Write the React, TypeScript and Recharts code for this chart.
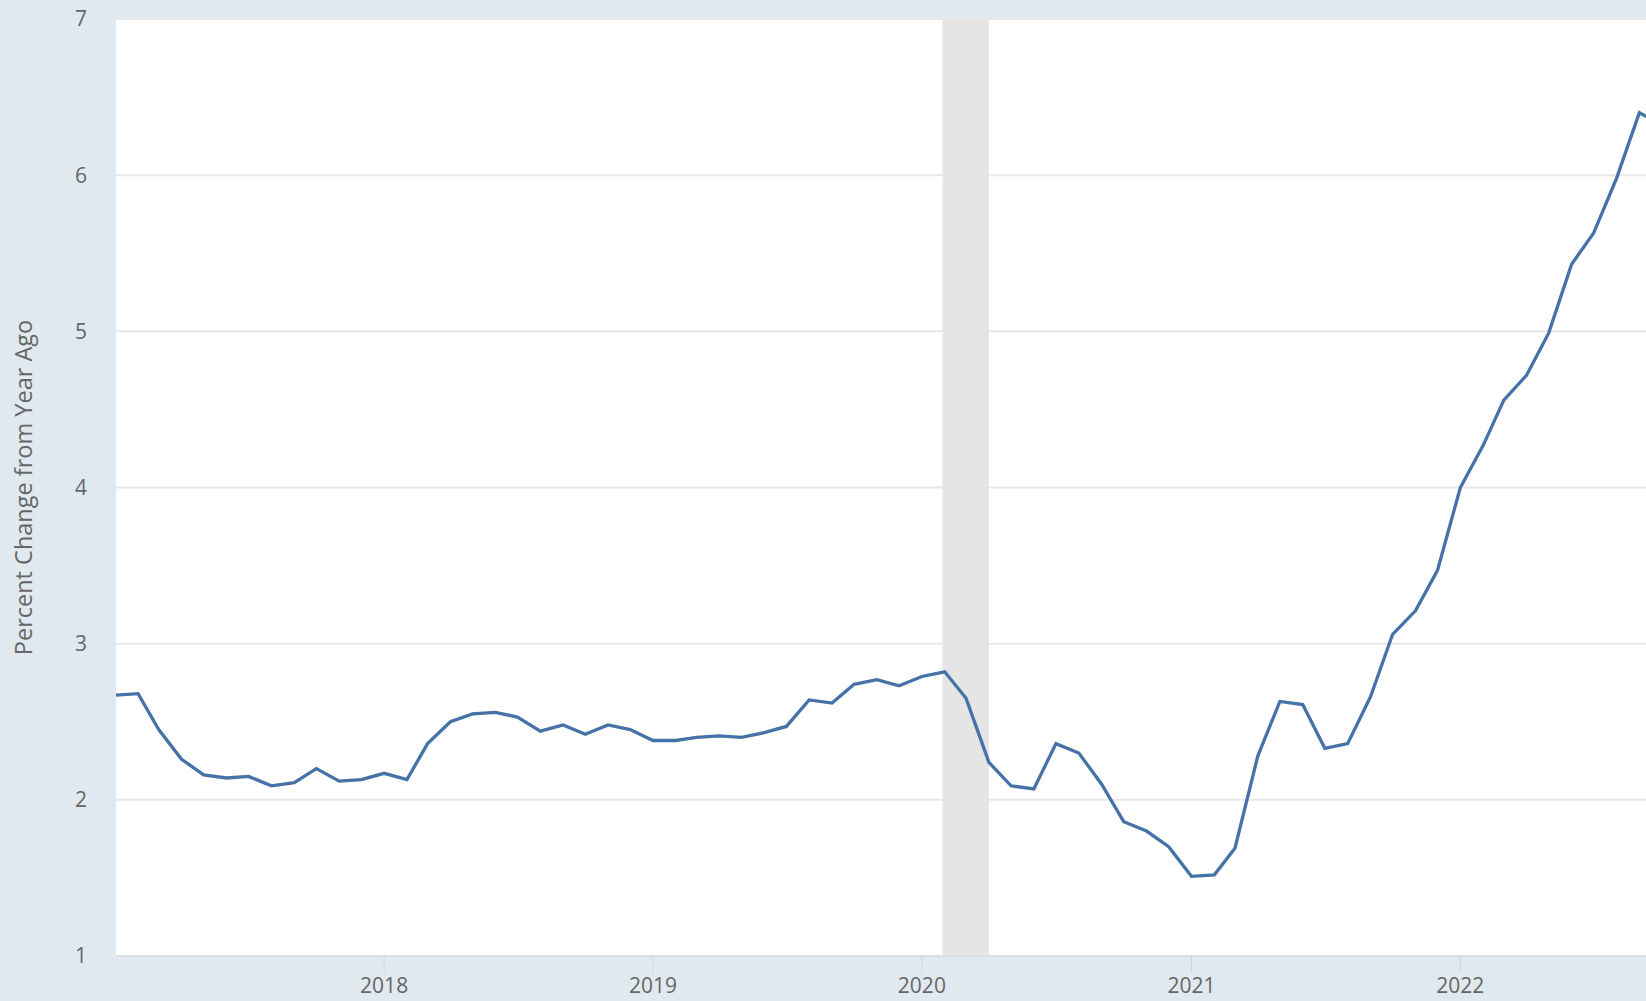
import {
    CartesianGrid,
    Line,
    LineChart,
    ReferenceArea,
    XAxis,
    YAxis,
} from 'recharts';

// monthly observations, first of each month
const months = [
    '2017-01', '2017-02', '2017-03', '2017-04', '2017-05', '2017-06', '2017-07', '2017-08', '2017-09', '2017-10', '2017-11', '2017-12',
    '2018-01', '2018-02', '2018-03', '2018-04', '2018-05', '2018-06', '2018-07', '2018-08', '2018-09', '2018-10', '2018-11', '2018-12',
    '2019-01', '2019-02', '2019-03', '2019-04', '2019-05', '2019-06', '2019-07', '2019-08', '2019-09', '2019-10', '2019-11', '2019-12',
    '2020-01', '2020-02', '2020-03', '2020-04', '2020-05', '2020-06', '2020-07', '2020-08', '2020-09', '2020-10', '2020-11', '2020-12',
    '2021-01', '2021-02', '2021-03', '2021-04', '2021-05', '2021-06', '2021-07', '2021-08', '2021-09', '2021-10', '2021-11', '2021-12',
    '2022-01', '2022-02', '2022-03', '2022-04', '2022-05', '2022-06', '2022-07', '2022-08', '2022-09', '2022-10',
];

const pctChange = [
    2.67, 2.68, 2.45, 2.26, 2.16, 2.14, 2.15, 2.09, 2.11, 2.2, 2.12, 2.13,
    2.17, 2.13, 2.36, 2.5, 2.55, 2.56, 2.53, 2.44, 2.48, 2.42, 2.48, 2.45,
    2.38, 2.38, 2.4, 2.41, 2.4, 2.43, 2.47, 2.64, 2.62, 2.74, 2.77, 2.73,
    2.79, 2.82, 2.65, 2.24, 2.09, 2.07, 2.36, 2.3, 2.1, 1.86, 1.8, 1.7,
    1.51, 1.52, 1.69, 2.28, 2.63, 2.61, 2.33, 2.36, 2.66, 3.06, 3.21, 3.47,
    4.0, 4.27, 4.56, 4.72, 4.99, 5.43, 5.63, 5.98, 6.4, 6.32,
];

const yearTicks = ['2018-01-01', '2019-01-01', '2020-01-01', '2021-01-01', '2022-01-01'];
const valueTicks = [1, 2, 3, 4, 5, 6, 7];
const recession = ['2020-01-29', '2020-04-01'];
const xRange = ['2017-01-02', '2022-09-10'];

const toMs = (s: string) => Date.parse(s.length === 7 ? s + '-01' : s);

const data = months.map((m, i) => ({ t: toMs(m), value: pctChange[i] }));

const YTitle = (props: any) => {
    const vb = props.viewBox;
    const cx = vb.x + 23;
    const cy = vb.y + vb.height / 2;
    return (
        <text
            x={cx}
            y={cy}
            transform={`rotate(-90, ${cx}, ${cy})`}
            textAnchor="middle"
            dominantBaseline="central"
            fill="#666666"
            fontSize={23.5}
        >
            Percent Change from Year Ago
        </text>
    );
};

const App = () => {
    return (
        <div
            style={{
                position: 'absolute',
                left: 0,
                top: 0,
                width: 1646,
                height: 1001,
                background: '#e1e9f0',
                fontFamily: '"Open Sans", sans-serif',
            }}
        >
            <LineChart
                width={1646}
                height={1001}
                data={data}
                margin={{ top: 19, right: 0, bottom: 0, left: 0 }}
            >
                <CartesianGrid
                    vertical={false}
                    fill="#ffffff"
                    stroke="#e8e8e8"
                    strokeWidth={2}
                />
                <XAxis
                    dataKey="t"
                    type="number"
                    scale="time"
                    domain={[toMs(xRange[0]), toMs(xRange[1])]}
                    ticks={yearTicks.map(toMs)}
                    tickFormatter={(v: number) => String(new Date(v).getUTCFullYear())}
                    allowDataOverflow
                    height={45}
                    tickSize={17}
                    tickMargin={5}
                    axisLine={{ stroke: '#ccd6eb' }}
                    tickLine={{ stroke: '#ccd6eb' }}
                    tick={{ fill: '#666666', fontSize: 21 }}
                />
                <YAxis
                    type="number"
                    domain={[1, 7]}
                    ticks={valueTicks}
                    width={116}
                    axisLine={false}
                    tickLine={false}
                    tickSize={0}
                    tickMargin={29}
                    tick={{ fill: '#666666', fontSize: 21 }}
                    label={{ content: YTitle }}
                />
                <ReferenceArea
                    x1={toMs(recession[0])}
                    x2={toMs(recession[1])}
                    fill="#e5e5e5"
                    fillOpacity={1}
                    stroke="none"
                />
                <Line
                    type="linear"
                    dataKey="value"
                    stroke="#4572a7"
                    strokeWidth={3.3}
                    dot={false}
                    activeDot={false}
                    isAnimationActive={false}
                />
            </LineChart>
        </div>
    );
};

export default App;
